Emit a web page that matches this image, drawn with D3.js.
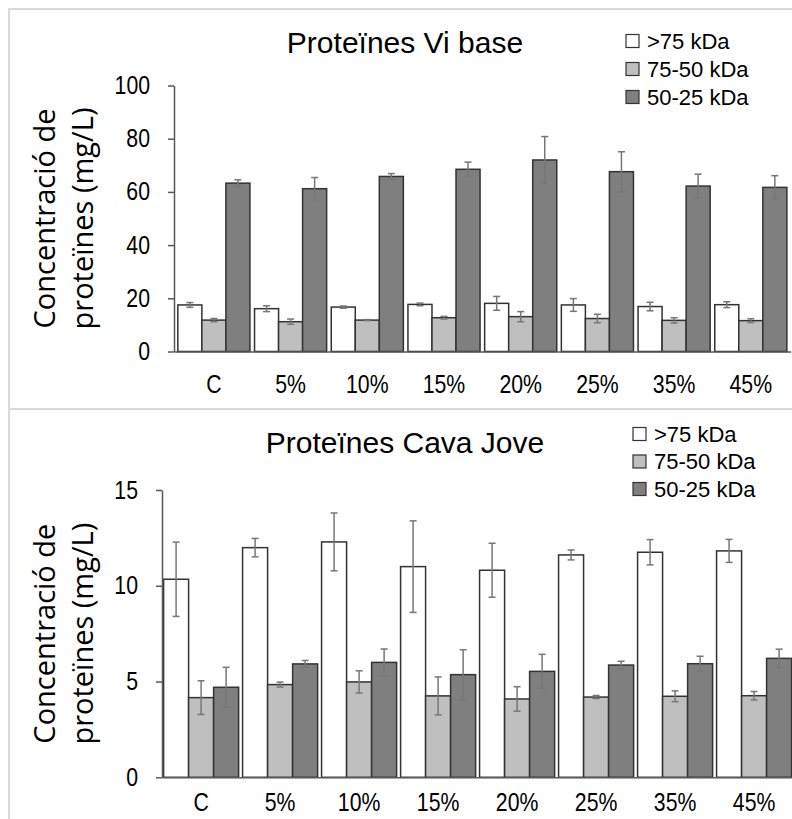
<!DOCTYPE html>
<html>
<head>
<meta charset="utf-8">
<script src="https://cdn.jsdelivr.net/npm/d3@7"></script>
<style>
  html, body { margin: 0; padding: 0; background: #fff; overflow: hidden; }
  svg { display: block; }
</style>
</head>
<body>
<svg id="chart" width="792" height="819"></svg>
<script>
const categories = ['C', '5%', '10%', '15%', '20%', '25%', '35%', '45%']
const series = ['>75 kDa', '75-50 kDa', '50-25 kDa']
const seriesColors = ['#ffffff', '#bfbfbf', '#7f7f7f']

// Vi base (mg/L)
const viBase75 = [17.5, 16.1, 16.7, 17.7, 18.1, 17.5, 16.9, 17.6]
const viBase75Err = [0.9, 1.1, 0.4, 0.5, 2.6, 2.4, 1.6, 1.1]
const viBase50 = [11.8, 11.2, 11.8, 12.7, 13.1, 12.4, 11.7, 11.6]
const viBase50Err = [0.6, 1.0, 0.2, 0.5, 1.9, 1.6, 1.0, 0.7]
const viBase25 = [63.3, 61.2, 65.8, 68.5, 72.0, 67.6, 62.2, 61.7]
const viBase25Err = [1.25, 4.2, 1.1, 2.7, 8.8, 7.5, 4.45, 4.4]
const viBaseTicks = [0, 20, 40, 60, 80, 100]

// Cava jove (mg/L)
const cava75 = [10.34, 11.99, 12.29, 11.0, 10.81, 11.61, 11.75, 11.82]
const cava75Err = [1.94, 0.48, 1.51, 2.39, 1.41, 0.26, 0.66, 0.6]
const cava50 = [4.16, 4.84, 4.98, 4.25, 4.09, 4.19, 4.23, 4.26]
const cava50Err = [0.88, 0.13, 0.58, 0.99, 0.64, 0.08, 0.28, 0.22]
const cava25 = [4.70, 5.92, 6.0, 5.36, 5.53, 5.86, 5.93, 6.21]
const cava25Err = [1.04, 0.18, 0.70, 1.30, 0.89, 0.2, 0.39, 0.48]
const cavaTicks = [0, 5, 10, 15]

const svg = d3.select('#chart')
const mainFont = '"Liberation Sans", Arial, sans-serif'
const axisTitleFont = '"Open Sans", "DejaVu Sans", sans-serif'
const narrow = 0.85 // squeeze tick labels a bit, the original font is narrower

function drawChart (opts) {
  const g = svg.append('g')

  // light frame around each panel
  g.append('rect')
    .attr('x', 9).attr('y', opts.frameTop)
    .attr('width', 820).attr('height', opts.frameHeight)
    .attr('fill', 'none')
    .attr('stroke', '#d9d9d9')
    .attr('stroke-width', 2)

  const x = d3.scaleBand()
    .domain(categories)
    .range(opts.xRange)
    .paddingInner(opts.padInner)
    .paddingOuter(opts.padOuter)

  const xs = d3.scaleBand()
    .domain(series)
    .range([0, x.bandwidth()])

  const y = d3.scaleLinear()
    .domain(opts.yDomain)
    .range(opts.yRange)

  const rows = []
  categories.forEach((c, i) => {
    series.forEach((s, j) => {
      rows.push({ cat: c, ser: s, idx: j, value: opts.values[j][i], err: opts.errors[j][i] })
    })
  })

  // bars
  g.selectAll('rect.bar')
    .data(rows)
    .enter()
    .append('rect')
    .attr('class', 'bar')
    .attr('x', d => x(d.cat) + xs(d.ser))
    .attr('y', d => y(d.value))
    .attr('width', xs.bandwidth())
    .attr('height', d => y(0) - y(d.value))
    .attr('fill', d => seriesColors[d.idx])
    .attr('stroke', '#333')
    .attr('stroke-width', 1.5)

  // error bars
  const eb = g.selectAll('g.err')
    .data(rows)
    .enter()
    .append('g')
    .attr('class', 'err')
    .attr('stroke', '#777')
    .attr('stroke-width', 1.5)

  eb.append('line')
    .attr('x1', d => x(d.cat) + xs(d.ser) + xs.bandwidth() / 2)
    .attr('x2', d => x(d.cat) + xs(d.ser) + xs.bandwidth() / 2)
    .attr('y1', d => y(d.value - d.err))
    .attr('y2', d => y(d.value + d.err))

  const capW = 3.5
  ;[1, -1].forEach(sign => {
    eb.append('line')
      .attr('x1', d => x(d.cat) + xs(d.ser) + xs.bandwidth() / 2 - capW)
      .attr('x2', d => x(d.cat) + xs(d.ser) + xs.bandwidth() / 2 + capW)
      .attr('y1', d => y(d.value + sign * d.err))
      .attr('y2', d => y(d.value + sign * d.err))
  })

  // y axis
  const yAxis = g.append('g')
    .attr('transform', `translate(${opts.xRange[0]},0)`)
    .call(d3.axisLeft(y).tickValues(opts.ticks).tickSize(6).tickSizeOuter(0))
  yAxis.select('.domain').attr('stroke', '#595959').attr('stroke-width', 1.5)
  yAxis.selectAll('.tick line').attr('stroke', '#595959').attr('stroke-width', 1.5)
  yAxis.selectAll('.tick text')
    .attr('fill', '#000')
    .attr('x', -24 / narrow)
    .attr('transform', `scale(${narrow},1)`)
    .style('font-family', mainFont)
    .style('font-size', '25px')

  // x axis
  const xAxis = g.append('g')
    .attr('transform', `translate(0,${y(0)})`)
    .call(d3.axisBottom(x).tickSize(0).tickSizeOuter(0))
  xAxis.select('.domain').attr('stroke', '#595959').attr('stroke-width', 1.5)
  xAxis.selectAll('.tick text')
    .attr('fill', '#000')
    .attr('dy', null)
    .attr('y', opts.labelOffset)
    .attr('transform', `scale(${narrow},1)`)
    .style('font-family', mainFont)
    .style('font-size', '25px')

  // title
  g.append('text')
    .attr('x', 405)
    .attr('y', opts.titleY)
    .attr('text-anchor', 'middle')
    .style('font-family', mainFont)
    .style('font-size', '30px')
    .text(opts.title)

  // axis title, two lines
  const yMid = (opts.yRange[0] + opts.yRange[1]) / 2
  ;['Concentració de', 'proteïnes (mg/L)'].forEach((line, i) => {
    g.append('text')
      .attr('transform', `translate(${55 + i * 38},${yMid}) rotate(-90)`)
      .attr('text-anchor', 'middle')
      .style('font-family', axisTitleFont)
      .style('font-size', '29px')
      .text(line)
  })

  // legend
  const leg = g.append('g')
    .attr('transform', `translate(${opts.legendX},${opts.legendY})`)
  series.forEach((s, i) => {
    const row = leg.append('g').attr('transform', `translate(0,${i * opts.legendStep})`)
    row.append('rect')
      .attr('x', 0).attr('y', -6.5)
      .attr('width', 13).attr('height', 13)
      .attr('fill', seriesColors[i])
      .attr('stroke', '#333')
      .attr('stroke-width', 1.2)
    row.append('text')
      .attr('x', 21)
      .attr('y', 0)
      .attr('dy', '0.36em')
      .style('font-family', mainFont)
      .style('font-size', '22px')
      .text(s)
  })
}

drawChart({
  frameTop: 9,
  frameHeight: 400,
  xRange: [174, 790.7],
  padInner: 0.06,
  padOuter: 0.05,
  yDomain: [0, 100],
  yRange: [351.5, 85.5],
  ticks: viBaseTicks,
  values: [viBase75, viBase50, viBase25],
  errors: [viBase75Err, viBase50Err, viBase25Err],
  labelOffset: 41.5,
  title: 'Proteïnes Vi base',
  titleY: 53,
  legendX: 626,
  legendY: 41,
  legendStep: 28
})

drawChart({
  frameTop: 409,
  frameHeight: 420,
  xRange: [162, 793.2],
  padInner: 0.05,
  padOuter: 0.02,
  yDomain: [0, 15],
  yRange: [777.3, 490],
  ticks: cavaTicks,
  values: [cava75, cava50, cava25],
  errors: [cava75Err, cava50Err, cava25Err],
  labelOffset: 34,
  title: 'Proteïnes Cava Jove',
  titleY: 453,
  legendX: 633,
  legendY: 434,
  legendStep: 27.5
})
</script>
</body>
</html>
